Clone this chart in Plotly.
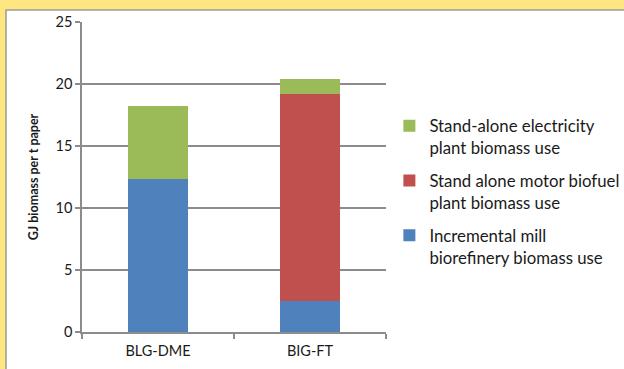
import plotly.graph_objects as go

categories = ["BLG-DME", "BIG-FT"]
mill_biorefinery = [12.3, 2.5]
motor_biofuel = [0.0, 16.7]
electricity = [5.9, 1.2]

series_names = [
    "Incremental mill<br>biorefinery biomass use",
    "Stand alone motor biofuel<br>plant biomass use",
    "Stand-alone electricity<br>plant biomass use",
]
series_values = [mill_biorefinery, motor_biofuel, electricity]
series_colors = ["#4F81BD", "#C0504D", "#9BBB59"]
legend_ranks = [3, 2, 1]

y_ticks = [0, 5, 10, 15, 20, 25]

FONT = "Lato"
GRID = "#8C8C8C"

fig = go.Figure()
for name, vals, col, rank in zip(series_names, series_values, series_colors, legend_ranks):
    fig.add_trace(go.Bar(
        x=categories, y=vals, name=name, marker_color=col,
        marker_line_width=0, legendgroup=name, legendrank=rank,
    ))

# white chart panel on the yellow page
fig.add_shape(type="rect", xref="paper", yref="paper",
              x0=-0.25, x1=1.9, y0=-0.2, y1=1.0387,
              fillcolor="white", line=dict(color="#9A9A9A", width=1.5),
              layer="below")

fig.update_layout(
    width=624, height=369,
    margin=dict(l=82, r=238, t=22, b=37, autoexpand=False),
    paper_bgcolor="#FFE680",
    plot_bgcolor="white",
    barmode="stack",
    bargap=0.6,
    font=dict(family=FONT, size=14.5, color="#1A1A1A"),
    legend=dict(
        xref="container", yref="container",
        x=0.624, y=0.48, xanchor="left", yanchor="middle",
        traceorder="grouped", tracegroupgap=8, valign="top",
        font=dict(family=FONT, size=16.8, color="#1A1A1A"),
        itemwidth=30, bgcolor="rgba(0,0,0,0)",
    ),
    xaxis=dict(
        showline=True, linecolor=GRID, linewidth=1.5,
        ticks="outside", tickson="boundaries", ticklen=5,
        tickcolor=GRID, tickwidth=1.5, ticklabelstandoff=5,
        tickfont=dict(size=14.5), showgrid=False,
    ),
    yaxis=dict(
        range=[0, 25], tickvals=y_ticks,
        showline=True, linecolor=GRID, linewidth=1.5,
        ticks="outside", ticklen=5, tickcolor=GRID, tickwidth=1.5,
        showgrid=True, gridcolor=GRID, gridwidth=1.5,
        zeroline=False, tickfont=dict(size=14.5),
        title=dict(text="<b>GJ biomass per t paper</b>",
                   font=dict(size=12.5), standoff=14),
    ),
)

fig.write_html("out.html")
